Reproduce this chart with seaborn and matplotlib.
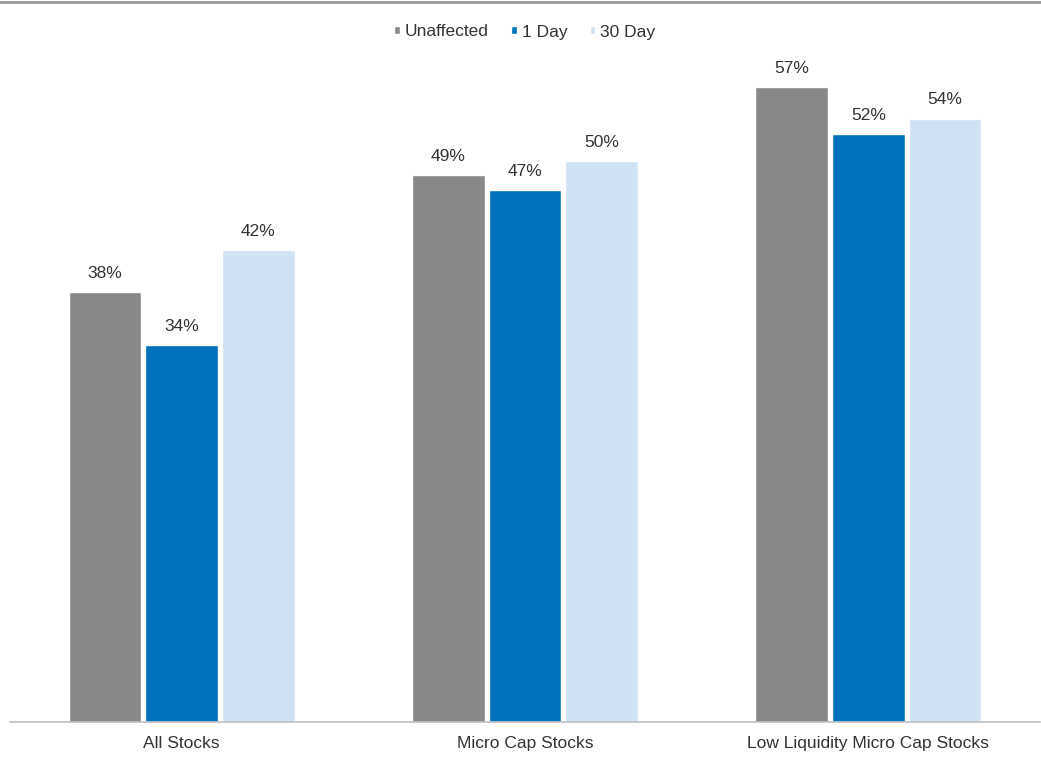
import pandas as pd
import numpy as np
import seaborn as sns
import matplotlib.pyplot as plt
from matplotlib.lines import Line2D

# data (bar heights estimated, labels rounded to whole %)
groups = ['All Stocks', 'Micro Cap Stocks', 'Low Liquidity Micro Cap Stocks']
series = ['Unaffected', '1 Day', '30 Day']
unaffected = [38.3, 48.8, 56.6]
one_day = [33.6, 47.4, 52.4]
thirty_day = [42.1, 50.0, 53.8]

colors = ['#888888', '#0071BC', '#CFE2F4']

df = pd.DataFrame({
    'group': groups * 3,
    'series': np.repeat(series, 3),
    'value': unaffected + one_day + thirty_day,
})

sns.set_style('white')
plt.rcParams['font.family'] = ['Liberation Sans', 'DejaVu Sans']

fig = plt.figure(figsize=(10.41, 7.65), dpi=100)
ax = fig.add_axes([10 / 1041, 43 / 765, 1030 / 1041, 673 / 765])

sns.barplot(data=df, x='group', y='value', hue='series', order=groups,
            hue_order=series, palette=colors, width=0.67, gap=0.05,
            saturation=1, ax=ax, legend=True)

for cont in ax.containers:
    ax.bar_label(cont, labels=['{:.0f}%'.format(v) for v in cont.datavalues],
                 padding=8, fontsize=12.5, color='#333333')

ax.set_xlim(-0.5, 2.5)
ax.set_ylim(0, 60)
ax.set_xlabel('')
ax.set_ylabel('')
ax.set_yticks([])
ax.tick_params(axis='x', length=0, labelsize=12.5, labelcolor='#333333', pad=10)
for s in ['top', 'left', 'right']:
    ax.spines[s].set_visible(False)
ax.spines['bottom'].set_color('#bfbfbf')
ax.spines['bottom'].set_linewidth(1.2)

handles, labels = ax.get_legend_handles_labels()
ax.legend(handles, labels, loc='center', bbox_to_anchor=(525 / 1041, 1 - 32 / 765),
          bbox_transform=fig.transFigure, ncol=3, frameon=False,
          fontsize=12.5, handlelength=0.3, handleheight=0.3,
          handletextpad=0.3, columnspacing=1.3, labelcolor='#333333')

# thin grey rule along the top edge
fig.add_artist(Line2D([0.0, 1.0], [0.998, 0.998], color='#999999', lw=2,
                      transform=fig.transFigure))

plt.savefig('out.png', dpi=100)
